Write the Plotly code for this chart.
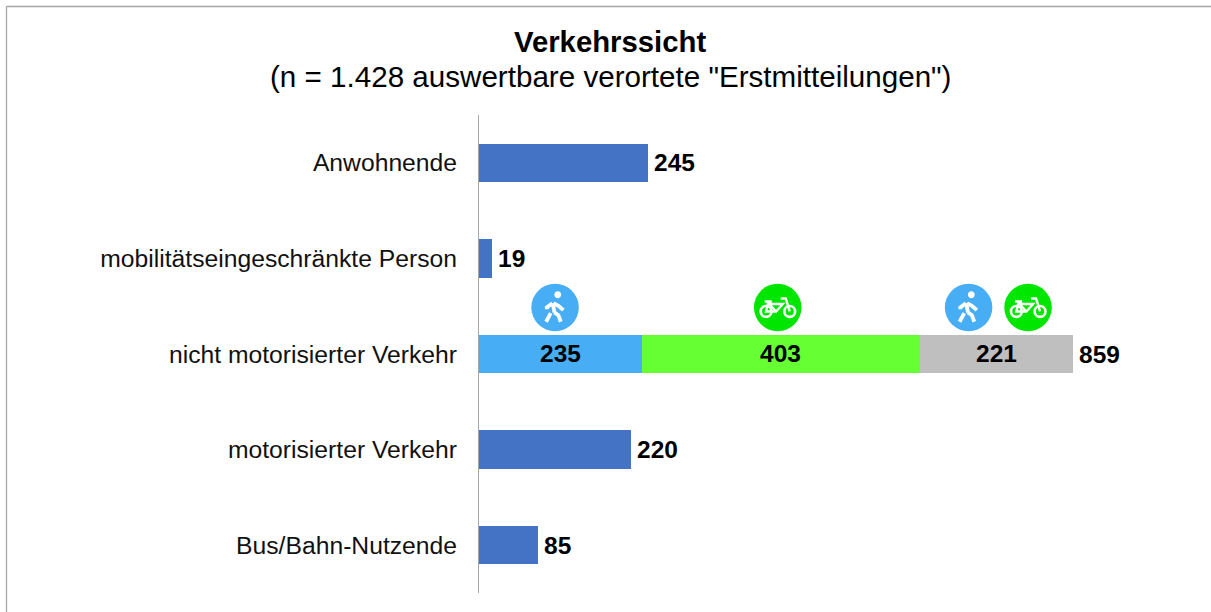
import plotly.graph_objects as go

categories = ["Anwohnende", "mobilitätseingeschränkte Person", "nicht motorisierter Verkehr",
              "motorisierter Verkehr", "Bus/Bahn-Nutzende"]
category_pos = [0, 1, 2, 3, 4]
single_values = [245, 19, None, 220, 85]
walk_values = [None, None, 235, None, None]
bike_values = [None, None, 403, None, None]
both_values = [None, None, 221, None, None]
nmv_total = [859]
nmv_total_pos = [2]
walk_icon_x = [110, 708]
bike_icon_x = [432, 794]
icon_y = 1.513
title_text = "Verkehrssicht"
subtitle_text = '(n = 1.428 auswertbare verortete "Erstmitteilungen")'

W, H = 1211, 612
L, R, T, B = 479, 11, 115, 19
XMAX = (W - L - R) / 0.6915
BLUE, SKY, LIME, GREY = "#4472C4", "#47AEF5", "#66FF33", "#BFBFBF"
ICON_GREEN = "#00E600"
FONT = "Liberation Sans"
pw, ph = W - L - R, H - T - B

fig = go.Figure()


def bar(values, color):
    fig.add_trace(go.Bar(y=category_pos, x=values, orientation="h",
                         marker=dict(color=color, line_width=0), showlegend=False, hoverinfo="x+y"))


bar(single_values, BLUE)
bar(walk_values, SKY)
bar(bike_values, LIME)
bar(both_values, GREY)

fig.add_trace(go.Scatter(x=walk_icon_x, y=[icon_y] * 2, mode="markers", cliponaxis=False,
                         marker=dict(size=47.5, color=SKY, line_width=0), showlegend=False, hoverinfo="skip"))
fig.add_trace(go.Scatter(x=bike_icon_x, y=[icon_y] * 2, mode="markers", cliponaxis=False,
                         marker=dict(size=47.5, color=ICON_GREEN, line_width=0), showlegend=False, hoverinfo="skip"))


def circle_path(cx, cy, r):
    k = 0.5523 * r
    return (f"M{cx + r},{cy} C{cx + r},{cy + k} {cx + k},{cy + r} {cx},{cy + r} "
            f"C{cx - k},{cy + r} {cx - r},{cy + k} {cx - r},{cy} "
            f"C{cx - r},{cy - k} {cx - k},{cy - r} {cx},{cy - r} "
            f"C{cx + k},{cy - r} {cx + r},{cy - k} {cx + r},{cy} Z")


def glyph(x, path, width=0, fill=None):
    return dict(type="path", xref="x", yref="y", xsizemode="pixel", ysizemode="pixel",
                xanchor=x, yanchor=icon_y, path=path, layer="above",
                line=dict(color="white", width=width), fillcolor=fill)


shapes = []
WALK_LINES = ("M-2.2,4.3 L-0.7,-5 M-2.7,4.3 L-8.3,0 L-8.3,-1.7 M-1.5,4.3 L3.3,1.7 L8.3,-2.7 "
              "M-0.7,-5 L3.3,-7.7 L5.7,-14.3 M-4.3,-5.7 L-9,-14.3")
BIKE_LINES = ("M-13,6 L-6,6 M-9.5,5 L-11.7,-4 L-1.7,-4 L5,3.5 L-8.5,3.5 M-1.7,-4 L-8.5,3.5 "
              "M3,9 L8,9 L12,-4")
for x in walk_icon_x:
    shapes.append(glyph(x, circle_path(2.7, 12.7, 3.4), 0, "white"))
    shapes.append(glyph(x, WALK_LINES, 3.8, "rgba(0,0,0,0)"))
for x in bike_icon_x:
    shapes.append(glyph(x, circle_path(-11.7, -4, 5.4), 2.6, "rgba(0,0,0,0)"))
    shapes.append(glyph(x, circle_path(12, -4, 5.4), 2.6, "rgba(0,0,0,0)"))
    shapes.append(glyph(x, BIKE_LINES, 2.4, "rgba(0,0,0,0)"))

# outer chart frame (top and left edges)
fx, fy = (6.5 - L) / pw, 1 + (T - 6.5) / ph
for x0, y0, x1, y1 in [(fx, fy, (W - L) / pw, fy), (fx, fy, fx, -B / ph)]:
    shapes.append(dict(type="line", xref="paper", yref="paper", x0=x0, y0=y0, x1=x1, y1=y1,
                       line=dict(color="#A6A6A6", width=1.3), layer="below"))

annotations = []
label_font = dict(family=FONT, size=24.5, color="black")
pairs = [(v, y) for v, y in zip(single_values, category_pos) if v is not None]
for v, y in pairs + list(zip(nmv_total, nmv_total_pos)):
    annotations.append(dict(x=v, y=y, xref="x", yref="y", text=f"<b>{v}</b>", showarrow=False,
                            xanchor="left", yanchor="middle", xshift=4, yshift=0, font=label_font))
start = 0
for series in (walk_values, bike_values, both_values):
    v = series[2]
    annotations.append(dict(x=start + v / 2, y=category_pos[2], xref="x", yref="y",
                            text=f"<b>{v}</b>", showarrow=False, xanchor="center",
                            yanchor="middle", yshift=1, font=label_font))
    start += v
tx = (610 - L) / pw
annotations.append(dict(x=tx, y=1 + (T - 41) / ph, xref="paper", yref="paper", showarrow=False,
                        text=f"<b>{title_text}</b>", xanchor="center", yanchor="middle",
                        font=dict(family=FONT, size=29.3, color="black")))
annotations.append(dict(x=tx, y=1 + (T - 77) / ph, xref="paper", yref="paper", showarrow=False,
                        text=subtitle_text, xanchor="center", yanchor="middle",
                        font=dict(family=FONT, size=29.6, color="black")))

fig.update_layout(
    width=W, height=H, margin=dict(l=L, r=R, t=T, b=B, autoexpand=False),
    paper_bgcolor="white", plot_bgcolor="white", barmode="stack", bargap=0.6,
    font=dict(family=FONT, color="black"), showlegend=False, shapes=shapes, annotations=annotations,
    xaxis=dict(range=[0, XMAX], visible=False, fixedrange=True),
    yaxis=dict(range=[4.5, -0.5], tickmode="array", tickvals=category_pos, ticktext=categories,
               showgrid=False, zeroline=False, showline=True, linecolor="#A6A6A6", linewidth=1,
               ticks="", ticklabelstandoff=16, tickfont=dict(family=FONT, size=24.7, color="#111111"),
               fixedrange=True),
)
fig.write_html("out.html", config={"displayModeBar": False},
               post_script="document.body.style.margin='0';")
